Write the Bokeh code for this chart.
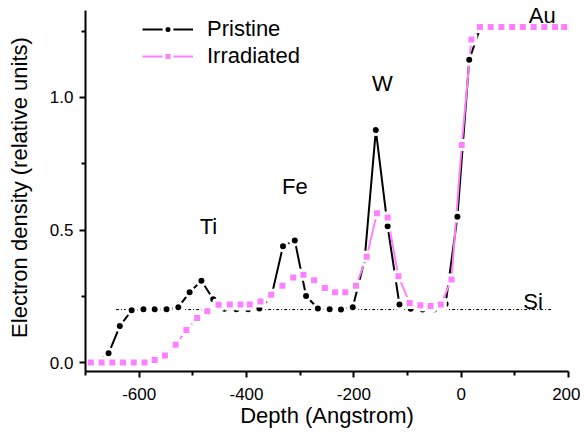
from bokeh.plotting import figure
from bokeh.models import FixedTicker, Legend, LegendItem
from bokeh.core.properties import value
from bokeh.embed import file_html
from bokeh.resources import INLINE

# ---- data ----
pristine_depth = [-700, -679, -657, -636, -614, -592, -571, -549, -527, -506, -484,
                  -462, -441, -419, -397, -376, -354, -332, -310, -289, -267, -245,
                  -224, -202, -180, -159, -137, -115, -94, -72, -50, -29, -7, 15,
                  36, 58, 80, 101, 123, 145, 166, 188]
pristine_density = [0.0, 0.0, 0.035, 0.138, 0.197, 0.201, 0.201, 0.201, 0.209, 0.265, 0.309,
                    0.239, 0.203, 0.201, 0.201, 0.204, 0.246, 0.439, 0.461, 0.251, 0.204, 0.201,
                    0.200, 0.209, 0.386, 0.877, 0.514, 0.219, 0.203, 0.200, 0.201, 0.221, 0.550, 1.142,
                    1.266, 1.266, 1.266, 1.266, 1.266, 1.266, 1.266, 1.266]

irradiated_depth = [-690, -670, -650, -630, -610, -590, -571, -552, -532, -512, -492,
                    -473, -452, -431, -411, -394, -374, -354, -333, -313, -294, -274,
                    -254, -235, -216, -196, -176, -157, -137, -117, -96, -76, -57, -38,
                    -18, 1, 19, 35, 55, 75, 95, 115, 135, 155, 175, 192]
irradiated_density = [0.0, 0.0, 0.0, 0.0, 0.0, 0.0, 0.010, 0.027, 0.067, 0.123, 0.168,
                      0.194, 0.218, 0.219, 0.219, 0.219, 0.230, 0.256, 0.290, 0.321, 0.331, 0.311,
                      0.281, 0.265, 0.265, 0.290, 0.399, 0.563, 0.547, 0.326, 0.225, 0.216, 0.213, 0.219,
                      0.313, 0.821, 1.219, 1.266, 1.266, 1.266, 1.266, 1.266, 1.266, 1.266, 1.266, 1.266]

si_depth = [-643, 171]
si_density = [0.2, 0.2]

element_labels = ["Ti", "Fe", "W", "Au", "Si"]
element_depth = [-471, -310, -147, 151, 134]
element_density = [0.513, 0.666, 1.054, 1.308, 0.231]

x_ticks = [-600, -400, -200, 0, 200]
x_tick_labels = ["-600", "-400", "-200", "0", "200"]
x_minor = [-700, -500, -300, -100, 100]
y_ticks = [0.0, 0.5, 1.0]
y_tick_labels = ["0.0", "0.5", "1.0"]
y_minor = [0.25, 0.75, 1.25]
y_axis_bounds = (-0.0336, 1.328)

FONT = "Liberation Sans"
PINK = "#FF80FF"

p = figure(width=580, height=430, x_range=(-700, 200), y_range=(-0.0336, 1.3545),
           output_backend="svg", toolbar_location=None,
           min_border_left=85, min_border_right=12, min_border_top=3, min_border_bottom=55)
p.xgrid.visible = False
p.ygrid.visible = False
p.outline_line_color = None
p.background_fill_color = "white"

# Si reference line
p.line(si_depth, si_density, line_color="black", line_width=1, line_dash="3 2 1 2")

# curves
l1 = p.line(pristine_depth, pristine_density, line_color="black", line_width=2)
l2 = p.line(irradiated_depth, irradiated_density, line_color=PINK, line_width=2)
m1 = p.scatter(pristine_depth[1:], pristine_density[1:], marker="circle", size=9,
               fill_color="black", line_color="white", line_width=3)
m2 = p.scatter(irradiated_depth, irradiated_density, marker="square", size=9,
               fill_color=PINK, line_color="white", line_width=3)

# element labels
p.text(x=element_depth, y=element_density, text=element_labels,
       text_font=value(FONT), text_font_size="22px", text_align="center",
       text_baseline="alphabetic", text_color="black")

# axes
for ax, ticks, labels, minor in ((p.xaxis[0], x_ticks, x_tick_labels, x_minor),
                                 (p.yaxis[0], y_ticks, y_tick_labels, y_minor)):
    ax.ticker = FixedTicker(ticks=ticks, minor_ticks=minor)
    ax.major_label_overrides = {t: l for t, l in zip(ticks, labels)}
    ax.axis_line_width = 2
    ax.axis_line_color = "black"
    ax.major_tick_line_width = 2
    ax.minor_tick_line_width = 2
    ax.major_tick_out = 6
    ax.major_tick_in = 0
    ax.minor_tick_out = 4
    ax.minor_tick_in = 0
    ax.major_label_text_font = FONT
    ax.major_label_text_font_size = "17px"
    ax.major_label_text_color = "black"
    ax.axis_label_text_font = FONT
    ax.axis_label_text_font_size = "22px"
    ax.axis_label_text_font_style = "normal"
    ax.axis_label_text_color = "black"

p.yaxis.bounds = y_axis_bounds
p.xaxis.axis_label = "Depth (Angstrom)"
p.yaxis.axis_label = "Electron density (relative units)"
p.xaxis.major_label_standoff = 10
p.xaxis.axis_label_standoff = 0
p.yaxis.major_label_standoff = 6
p.yaxis.axis_label_standoff = 15

legend = Legend(items=[LegendItem(label="Pristine", renderers=[l1, m1]),
                       LegendItem(label="Irradiated", renderers=[l2, m2])],
                location=(57, 302))
legend.padding = 0
legend.margin = 0
legend.spacing = 1
legend.glyph_width = 51
legend.glyph_height = 20
legend.label_standoff = 14
legend.label_text_font = FONT
legend.label_text_font_size = "22px"
legend.label_text_color = "black"
legend.border_line_color = None
legend.background_fill_alpha = 0
p.add_layout(legend)

open("out.html", "w").write(file_html(p, INLINE))
